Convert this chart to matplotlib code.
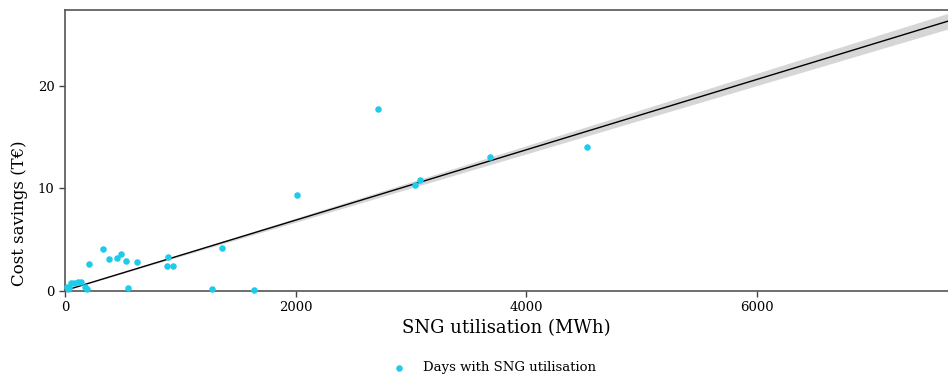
import matplotlib.pyplot as plt
import numpy as np

# daily SNG utilisation (MWh) vs. cost savings (T€)
sng_mwh = [15, 25, 37, 52, 78, 110, 139, 174, 194, 206, 330, 385, 449, 484,
           527, 544, 622, 888, 897, 938, 1279, 1365, 1643, 2011, 2717, 3036,
           3079, 3683, 4531]
savings = [0.35, 0.10, 0.21, 0.70, 0.70, 0.80, 0.80, 0.31, 0.15, 2.59, 4.08,
           3.07, 3.14, 3.53, 2.91, 0.24, 2.81, 2.39, 3.30, 2.39, 0.12, 4.18,
           0.08, 9.35, 17.74, 10.32, 10.81, 13.05, 14.00]

# regression through the origin (slope in T€ per MWh) and its CI half-width
fit_slope = 0.003435
fit_ci = 0.0001

x_ticks = [0, 2000, 4000, 6000]
y_ticks = [0, 10, 20]

plt.rcParams['font.family'] = ['DejaVu Serif']

fig = plt.figure(figsize=(9.48, 3.77), dpi=100)
ax = fig.add_axes([65 / 948, 1 - 290.5 / 377, 1 - 65 / 948, (290.5 - 10) / 377])

x_max = 7660
xs = np.linspace(0, x_max, 200)
ax.fill_between(xs, xs * (fit_slope - fit_ci), xs * (fit_slope + fit_ci),
                color='#d6d6d6', lw=0, zorder=1)
ax.plot(xs, xs * fit_slope, color='black', lw=1, zorder=2)
ax.scatter(sng_mwh, savings, s=22, color='#1ecbe8', lw=0, zorder=3,
           label='Days with SNG utilisation', clip_on=False)

ax.set_xlim(0, x_max)
ax.set_ylim(0, 27.4)
ax.set_xticks(x_ticks)
ax.set_yticks(y_ticks)
ax.tick_params(direction='out', length=4, width=1, color='#444444',
               labelsize=9.5, colors='black')
for side in ['left', 'bottom', 'top']:
    ax.spines[side].set_color('#555555')
    ax.spines[side].set_linewidth(1.2)
ax.spines['right'].set_visible(False)

ax.set_xlabel('SNG utilisation (MWh)', fontsize=13, labelpad=4)
ax.set_ylabel('Cost savings (T€)', fontsize=12)
ax.yaxis.set_label_coords(-0.042, 0.276)

fig.legend(loc='center', bbox_to_anchor=(491 / 948, 1 - 368 / 377),
           frameon=False, fontsize=9.5, handletextpad=0.8, markerscale=1.0)

fig.savefig('out.png', dpi=100)
